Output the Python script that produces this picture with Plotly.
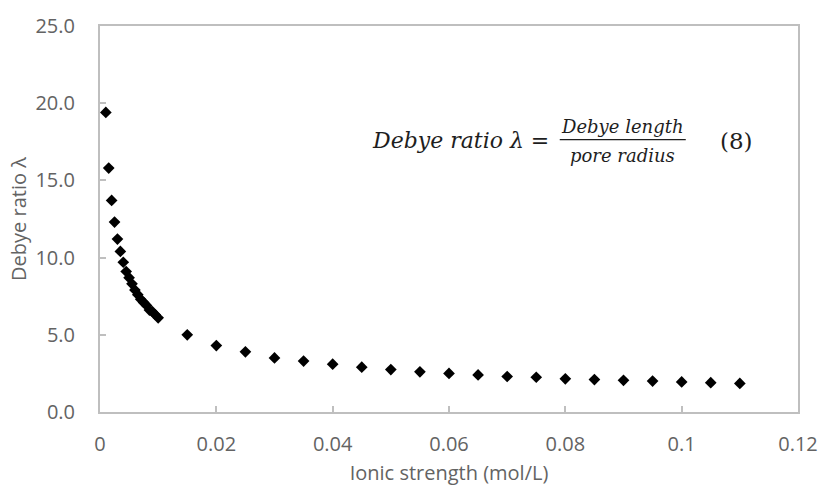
import plotly.graph_objects as go

# Data
ionic_strength = [0.001, 0.0015, 0.002, 0.0025, 0.003, 0.0035, 0.004, 0.0045, 0.005, 0.0055,
                  0.006, 0.0065, 0.007, 0.0075, 0.008, 0.0085, 0.009, 0.0095, 0.01,
                  0.015, 0.02, 0.025, 0.03, 0.035, 0.04, 0.045, 0.05, 0.055, 0.06,
                  0.065, 0.07, 0.075, 0.08, 0.085, 0.09, 0.095, 0.1, 0.105, 0.11]
debye_ratio = [19.4, 15.8, 13.7, 12.3, 11.2, 10.4, 9.7, 9.1, 8.7, 8.3,
               7.9, 7.6, 7.3, 7.1, 6.9, 6.6, 6.5, 6.3, 6.1,
               5.0, 4.3, 3.9, 3.5, 3.3, 3.1, 2.9, 2.75, 2.6, 2.5,
               2.4, 2.3, 2.25, 2.15, 2.1, 2.05, 2.0, 1.95, 1.9, 1.85]

x_ticks = [0, 0.02, 0.04, 0.06, 0.08, 0.1, 0.12]
x_tick_labels = ["0", "0.02", "0.04", "0.06", "0.08", "0.1", "0.12"]
y_ticks = [0, 5, 10, 15, 20, 25]
y_tick_labels = ["0.0", "5.0", "10.0", "15.0", "20.0", "25.0"]

W, H = 830, 493
L, R, T, B = 100, 21, 20, 79
PW, PH = W - L - R, H - T - B

def px(x):
    return (x - L) / PW

def py(y):
    return (H - B - y) / PH

AX = "#BFBFBF"
TXT = "#636363"
FONT = "'Open Sans', sans-serif"
SERIF = "'DejaVu Serif', serif"
EQ = "#1e1e1e"
FS = 20

fig = go.Figure()
fig.add_trace(go.Scatter(
    x=ionic_strength, y=debye_ratio, mode="markers",
    marker=dict(symbol="diamond", size=9, color="black"),
    showlegend=False,
))

fig.update_layout(
    width=W, height=H,
    margin=dict(l=L, r=R, t=T, b=B),
    paper_bgcolor="white", plot_bgcolor="white",
    font=dict(family=FONT, color=TXT, size=FS),
    xaxis=dict(
        range=[0, 0.12], tickvals=x_ticks, ticktext=x_tick_labels,
        showgrid=False, zeroline=False, showline=True, linecolor=AX, linewidth=2,
        mirror=True, ticks="inside", ticklen=6, tickcolor=AX, tickwidth=2,
        tickfont=dict(size=FS, color=TXT), ticklabelstandoff=13,
        title=dict(text="Ionic strength (mol/L)", font=dict(size=FS, color=TXT), standoff=10),
    ),
    yaxis=dict(
        range=[0, 25], tickvals=y_ticks, ticktext=y_tick_labels,
        showgrid=False, zeroline=False, showline=True, linecolor=AX, linewidth=2,
        mirror=True, ticks="inside", ticklen=6, tickcolor=AX, tickwidth=2,
        tickfont=dict(size=FS, color=TXT), ticklabelstandoff=19,
        title=dict(text="Debye ratio λ", font=dict(size=FS, color=TXT), standoff=3),
    ),
)

ann = dict(xref="paper", yref="paper", showarrow=False, yanchor="middle")
fig.add_annotation(text="<i>Debye ratio λ</i> =", x=px(558), y=py(137), xanchor="right",
                   font=dict(family=SERIF, color=EQ, size=22), **ann)
fig.add_annotation(text="<i>Debye length</i>", x=px(631), y=py(123), xanchor="center",
                   font=dict(family=SERIF, color=EQ, size=18), **ann)
fig.add_annotation(text="<i>pore radius</i>", x=px(631), y=py(152), xanchor="center",
                   font=dict(family=SERIF, color=EQ, size=18), **ann)
fig.add_annotation(text="(8)", x=px(747), y=py(137), xanchor="center",
                   font=dict(family=SERIF, color=EQ, size=23), **ann)
fig.add_shape(type="line", xref="paper", yref="paper",
              x0=px(567), x1=px(695), y0=py(136), y1=py(136),
              line=dict(color=EQ, width=1.2))

fig.write_html("out.html")
